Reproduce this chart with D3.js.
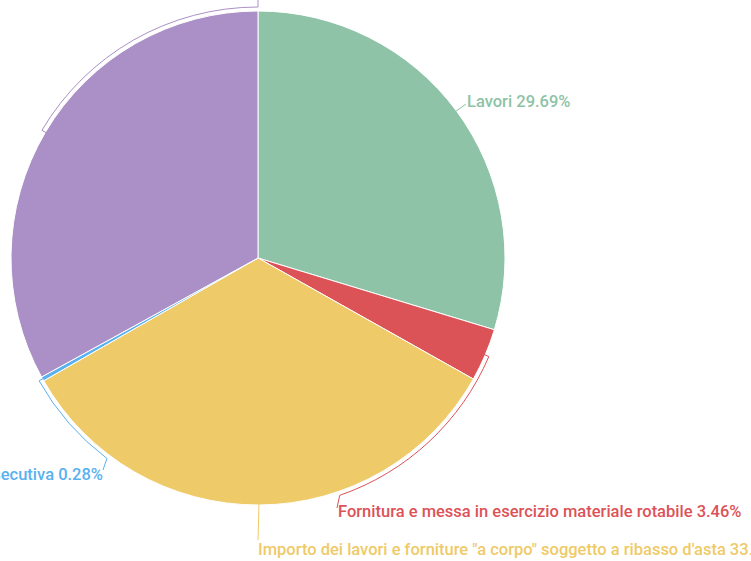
<!DOCTYPE html>
<html>
  <head>
    <meta charset='utf-8'>
    <style>
      body { margin: 0; background: #fff; }
      svg { display: block; }
      .lbl { font-family: Roboto, "Noto Sans", sans-serif; font-size: 16.5px; font-weight: 500; }
    </style>
  </head>
<body>
<div id="chart"></div>
<script src="https://d3js.org/d3.v7.min.js"></script>
<script type="text/javascript">

  // --------------------------- data --------------------------
  var labels = [
    "Lavori",
    "Fornitura e messa in esercizio materiale rotabile",
    "Importo dei lavori e forniture \"a corpo\" soggetto a ribasso d'asta",
    "Progettazione esecutiva",
    "Oneri per la sicurezza"
  ];
  var percents = [29.69, 3.46, 33.57, 0.28, 33.00];
  var colors = ["#8ec3a7", "#dc5357", "#efca68", "#5ab1ef", "#aa90c6"];

  // label layout: angle (deg) the leader follows the rim to, then the end point
  var leaders = [
    {arcTo: null, end: [466, 104], text: [467, 101], anchor: "start"},
    {arcTo: 161,  end: [337, 508], text: [338, 511], anchor: "start"},
    {arcTo: null, end: [258, 540], text: [258, 549], anchor: "start"},
    {arcTo: 217,  end: [103, 470], text: [103, 474], anchor: "end"},
    {arcTo: 360,  end: [258, -20], text: [258, -28], anchor: "middle"}
  ];

  var W = 751, H = 561,
      cx = 258, cy = 258,
      radius = 247, rim = 251;

  var data = labels.map(function(l, i){ return {name: l, value: percents[i], i: i}; });

  var svg = d3.select("#chart").append("svg")
    .attr("width", W).attr("height", H);

  var g = svg.append("g").attr("transform", "translate(" + [cx, cy] + ")");

  var pie = d3.pie().sort(null).value(function(d){ return d.value; });
  var arc = d3.arc().innerRadius(0).outerRadius(radius);
  var arcs = pie(data);

  g.selectAll(".slice")
    .data(arcs)
    .enter()
    .append("path")
    .attr("class", "slice")
    .attr("d", arc)
    .attr("fill", function(d){ return colors[d.data.i]; })
    .attr("stroke", "#fff")
    .attr("stroke-width", 1);

  function pt(r, a){ return [Math.sin(a) * r, -Math.cos(a) * r]; }

  g.selectAll(".leader")
    .data(arcs)
    .enter()
    .append("path")
    .attr("class", "leader")
    .attr("fill", "none")
    .attr("stroke", function(d){ return colors[d.data.i]; })
    .attr("stroke-width", 1)
    .attr("d", function(d){
      var L = leaders[d.data.i];
      var mid = (d.startAngle + d.endAngle) / 2;
      var p = d3.path();
      var s = pt(radius - 2, mid);
      p.moveTo(s[0], s[1]);
      if (L.arcTo !== null) {
        var e = pt(rim, mid);
        p.lineTo(e[0], e[1]);
        var b = L.arcTo * Math.PI / 180;
        p.arc(0, 0, rim, mid - Math.PI / 2, b - Math.PI / 2, b < mid);
      }
      p.lineTo(L.end[0] - cx, L.end[1] - cy);
      return p.toString();
    });

  g.selectAll(".lbl")
    .data(arcs)
    .enter()
    .append("text")
    .attr("class", "lbl")
    .attr("x", function(d){ return leaders[d.data.i].text[0] - cx; })
    .attr("y", function(d){ return leaders[d.data.i].text[1] - cy; })
    .attr("dy", "0.35em")
    .attr("text-anchor", function(d){ return leaders[d.data.i].anchor; })
    .attr("fill", function(d){ return colors[d.data.i]; })
    .text(function(d){ return d.data.name + " " + d3.format(".2f")(d.data.value) + "%"; });

</script>
</body>
</html>
